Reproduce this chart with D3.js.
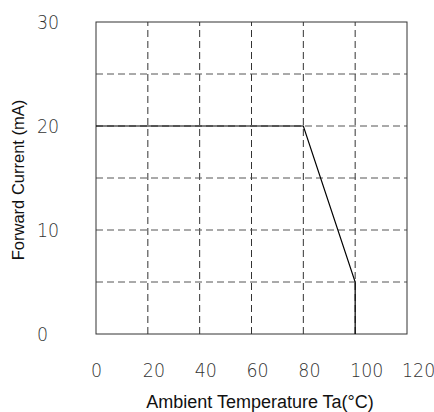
<!DOCTYPE html>
<html>
<head>
<meta charset="utf-8">
<script src="https://cdn.jsdelivr.net/npm/d3@7"></script>
<style>
  body { margin: 0; background: #fff; }
  .tick-label { font-family: "DejaVu Sans", sans-serif; font-weight: 200; font-size: 20px; fill: #333; }
  .title { font-family: "Liberation Sans", Arial, sans-serif; fill: #111; }
</style>
</head>
<body>
<div id="chart"></div>
<script>
// derating curve
var temps = [0, 80, 100, 100];
var currents = [20, 20, 5, 0];

var xTicks = [0, 20, 40, 60, 80, 100, 120];
var yTicks = [0, 5, 10, 15, 20, 25, 30];
var yLabels = [0, 10, 20, 30];

var width = 434, height = 412;
var margin = {top: 22, right: 27, bottom: 78, left: 96};

var svg = d3.select("#chart")
    .append("svg")
    .attr("width", width)
    .attr("height", height);

var x = d3.scaleLinear().domain([0, 120]).range([margin.left, width - margin.right]);
var y = d3.scaleLinear().domain([0, 30]).range([height - margin.bottom, margin.top]);

// grid
svg.selectAll(".vgrid")
    .data(xTicks.slice(1, -1))
    .enter()
    .append("line")
    .attr("x1", d => x(d)).attr("x2", d => x(d))
    .attr("y1", y(0)).attr("y2", y(30))
    .attr("stroke", "#333")
    .attr("stroke-dasharray", "7,4");

svg.selectAll(".hgrid")
    .data(yTicks.slice(1, -1))
    .enter()
    .append("line")
    .attr("x1", x(0)).attr("x2", x(120))
    .attr("y1", d => y(d)).attr("y2", d => y(d))
    .attr("stroke", "#555")
    .attr("stroke-dasharray", "7,4");

// frame
svg.append("rect")
    .attr("x", x(0)).attr("y", y(30))
    .attr("width", x(120) - x(0))
    .attr("height", y(0) - y(30))
    .attr("fill", "none")
    .attr("stroke", "#333")
    .attr("stroke-width", 1);

// curve
var line = d3.line()
    .x(d => x(d[0]))
    .y(d => y(d[1]));

svg.append("path")
    .datum(d3.zip(temps, currents))
    .attr("d", line)
    .attr("fill", "none")
    .attr("stroke", "#000")
    .attr("stroke-width", 1.2);

// tick labels (narrow plotter-style digits)
svg.selectAll(".xl")
    .data(xTicks)
    .enter()
    .append("text")
    .attr("class", "tick-label")
    .attr("transform", d => "translate(" + (x(d) - 5) + "," + (y(0) + 43) + ") scale(0.87,1)")
    .text(d => d);

svg.selectAll(".yl")
    .data(yLabels)
    .enter()
    .append("text")
    .attr("class", "tick-label")
    .attr("transform", d => "translate(37," + (y(d) + 7) + ") scale(0.87,1)")
    .text(d => d);

// axis titles
svg.append("text")
    .attr("class", "title")
    .attr("font-size", 18)
    .attr("text-anchor", "middle")
    .attr("x", 260)
    .attr("y", 408)
    .text("Ambient Temperature Ta(°C)");

svg.append("text")
    .attr("class", "title")
    .attr("font-size", 16.5)
    .attr("text-anchor", "middle")
    .attr("transform", "translate(24,180) rotate(-90)")
    .text("Forward Current (mA)");
</script>
</body>
</html>
